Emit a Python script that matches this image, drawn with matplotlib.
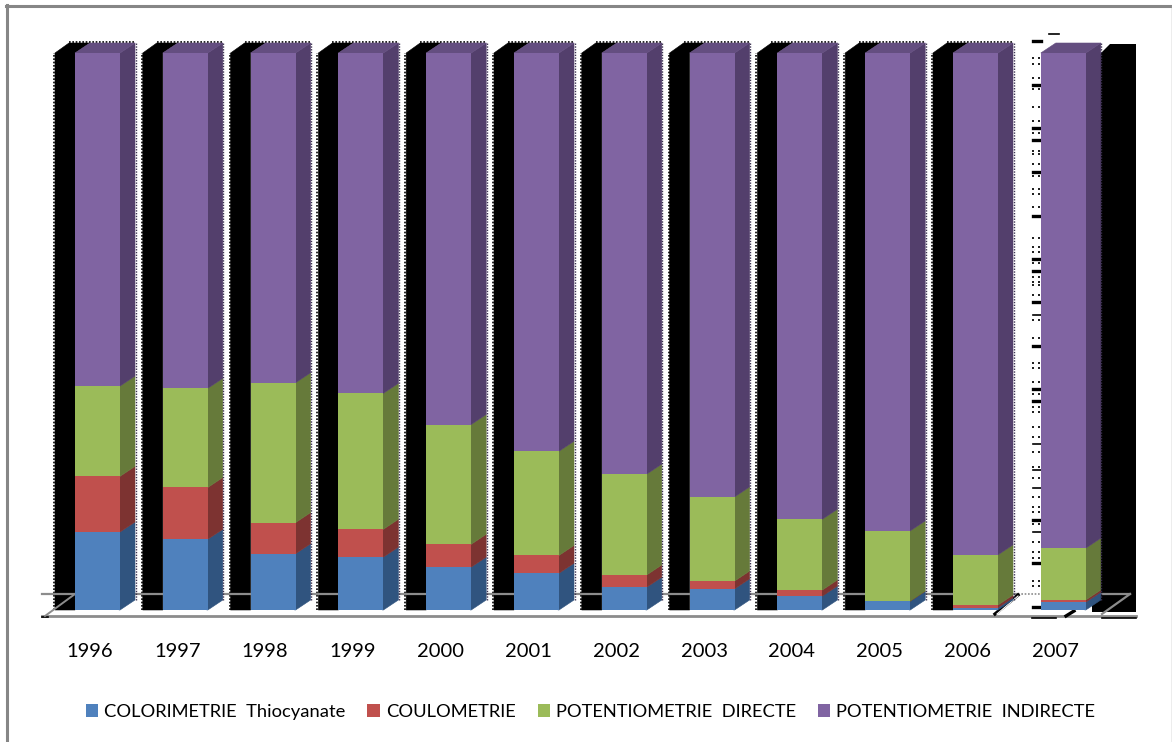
import matplotlib
matplotlib.use('Agg')
import matplotlib.pyplot as plt
import numpy as np
from matplotlib.patches import Patch, Polygon
from matplotlib.transforms import Affine2D

plt.rcParams['font.family'] = ['Lato', 'DejaVu Sans']

years = ['1996', '1997', '1998', '1999', '2000', '2001', '2002', '2003', '2004', '2005', '2006', '2007']
colorimetrie = [14.0, 12.7, 10.1, 9.5, 7.7, 6.6, 4.1, 3.8, 2.5, 1.6, 0.4, 1.4]
coulometrie = [10.0, 9.3, 5.6, 5.0, 4.1, 3.2, 2.2, 1.4, 1.1, 0.0, 0.5, 0.4]
pot_directe = [16.2, 17.8, 25.1, 24.4, 21.5, 18.7, 18.1, 15.1, 12.7, 12.6, 9.0, 9.3]
pot_indirecte = [59.8, 60.2, 59.2, 61.1, 66.7, 71.5, 75.6, 79.7, 83.7, 85.8, 90.1, 88.9]

series_names = ['COLORIMETRIE  Thiocyanate', 'COULOMETRIE', 'POTENTIOMETRIE  DIRECTE', 'POTENTIOMETRIE  INDIRECTE']
front_colors = ['#4F81BD', '#C0504D', '#9BBB59', '#8064A2']
side_colors = ['#30547F', '#7D3331', '#667A3A', '#533F6C']
top_color = '#644E80'

W, H = 1172, 742
fig = plt.figure(figsize=(W / 100, H / 100), dpi=100, facecolor='white')

# plot area runs from the first bar to the last, 100% is the full column
step = 87.8
first_center = 97.5
left_px, right_px = 53, 1143
base_px, top_px = 610, 53
ax = fig.add_axes([left_px / W, 1 - base_px / H, (right_px - left_px) / W, (base_px - top_px) / H])
ax.set_xlim((left_px - first_center) / step, (right_px - first_center) / step)
ax.set_ylim(0, 100)
for s in ax.spines.values():
    s.set_visible(False)
ax.set_yticks([])
ax.patch.set_visible(False)

# helper transform for the furniture, in pixels from the top left
px = Affine2D().scale(1, -1).translate(0, H)

ux = 1 / step
uy = 100 / (base_px - top_px)
bar_w = 45 * ux
dx, dy = 15 * ux, 10 * uy
wall_w = 20 * ux
x = np.arange(len(years))


def poly(points, color, z):
    ax.add_patch(Polygon(points, closed=True, facecolor=color, edgecolor=color, lw=0.4, zorder=z, clip_on=False))


# black back walls next to each column
for i in x[:-1]:
    l = i - bar_w / 2
    poly([(l - wall_w, 0), (l - wall_w, 100), (l - wall_w + 14 * ux, 100 + dy), (l + dx, 100 + dy), (l, 100), (l, 0)], 'black', 1)
    ax.plot([l - wall_w - 1 * ux] * 2, [0, 100], color='black', lw=1.2, ls=(0, (1, 1)), zorder=1, clip_on=False)
    ax.plot([l - wall_w + 14 * ux, l + dx + bar_w], [100 + dy + 0.2] * 2, color='black', lw=1.2, ls=(0, (1, 1)), zorder=1, clip_on=False)

# last wall sits on the right of 2007
ax.add_patch(Polygon([(1092, 612), (1092, 600), (1100, 600), (1100, 54), (1110, 44), (1136, 44), (1136, 612)],
                     closed=True, facecolor='black', edgecolor='none', transform=px, zorder=1, clip_on=False))

# scattered marks left of 2007
thick_rows = [41, 85, 128, 140, 172, 216, 259, 271, 302, 346, 389, 401, 520, 563, 607]
thin_rows = [315, 444, 470, 488, 532]
dot_rows = [58, 64, 78, 89, 107, 121, 133, 151, 154, 164, 176, 189, 194, 207, 238, 247, 252, 263, 277, 282, 285,
            295, 320, 338, 363, 368, 382, 394, 407, 412, 427, 437, 452, 467, 478, 497, 507, 512, 524, 542, 552, 558,
            581, 586]
for r in thick_rows:
    ax.plot([1033, 1041], [r, r], color='black', lw=2.4, transform=px, zorder=1, clip_on=False)
for r in thin_rows:
    ax.plot([1033, 1041], [r, r], color='black', lw=1.2, transform=px, zorder=1, clip_on=False)
for r in dot_rows:
    ax.plot([1033, 1039], [r, r], ls='none', marker='s', ms=1.6, mew=0, color='#222222', transform=px, zorder=1, clip_on=False)
ax.plot([1049, 1059], [34, 34], color='black', lw=1.2, transform=px, zorder=1, clip_on=False)

# floor outline
grey = '#8C8C8C'
ax.plot([42, 1018], [594, 594], color=grey, lw=1.6, transform=px, zorder=2, clip_on=False)
ax.plot([1018, 1041], [594, 594], color=grey, lw=1.2, ls=(0, (1, 1)), transform=px, zorder=2, clip_on=False)
ax.plot([1100, 1130], [594, 594], color=grey, lw=1.6, transform=px, zorder=2, clip_on=False)
ax.plot([42, 1136], [616, 616], color=grey, lw=2, transform=px, zorder=2, clip_on=False)
ax.plot([42, 48], [616.5, 616.5], color='black', lw=1.2, transform=px, zorder=2, clip_on=False)
ax.plot([1102, 1136], [618, 618], color='black', lw=1.2, transform=px, zorder=2, clip_on=False)
ax.plot([1032, 1056], [618, 618], color='black', lw=1.2, transform=px, zorder=2, clip_on=False)
ax.plot([45, 75], [616, 594], color=grey, lw=1.4, transform=px, zorder=2, clip_on=False)
ax.plot([1102, 1130], [614, 594], color=grey, lw=1.6, transform=px, zorder=2, clip_on=False)
ax.plot([995, 1018], [614, 595], color='black', lw=2.4, transform=px, zorder=2, clip_on=False)
ax.plot([997, 1018], [614, 596], color='white', lw=0.8, transform=px, zorder=2, clip_on=False)
ax.plot([1066, 1074], [616, 611], color='black', lw=2.4, transform=px, zorder=2, clip_on=False)

# stacked columns, front faces and right sides
series = [colorimetrie, coulometrie, pot_directe, pot_indirecte]
bottom = np.zeros(len(years))
for vals, front, side in zip(series, front_colors, side_colors):
    vals = np.array(vals)
    ax.bar(x, vals, bottom=bottom, width=bar_w, color=front, zorder=4)
    for i in x:
        r = i + bar_w / 2
        y0, y1 = bottom[i], bottom[i] + vals[i]
        poly([(r - ux, y0), (r, y0), (r + dx, y0 + dy), (r + dx, y1 + dy), (r, y1), (r - ux, y1)], side, 3)
    bottom = bottom + vals

for i in x:
    l = i - bar_w / 2
    poly([(l, 100), (l + dx, 100 + dy), (l + bar_w + dx, 100 + dy), (l + bar_w, 100)], top_color, 3)
    ax.plot([l + bar_w + dx + 0.5 * ux] * 2, [dy, 100 + dy], color='#3A3050', lw=1, ls=(0, (1, 1)), zorder=3, clip_on=False)

# year labels sit a little left of the column centres
ax.set_xticks(x - 8 * ux)
ax.set_xticklabels(years, fontsize=14.5, color='black')
ax.tick_params(axis='x', length=0, pad=24)

# outer frame
ax.plot([7, 7], [5, H], color='#868686', lw=2.2, transform=px, clip_on=False, zorder=5)
ax.plot([6, W], [6, 6], color='#868686', lw=2.2, transform=px, clip_on=False, zorder=5)
ax.plot([1171.5, 1171.5], [6, H], color='#A8A8A8', lw=1, transform=px, clip_on=False, zorder=5)

handles = [Patch(facecolor=c, edgecolor='none') for c in front_colors]
fig.legend(handles, series_names, loc='center', bbox_to_anchor=(590.5 / W, 1 - 712 / H), ncol=4, frameon=False,
           fontsize=13.2, handlelength=0.68, handleheight=0.68, handletextpad=0.32, columnspacing=1.2,
           borderpad=0, borderaxespad=0)

fig.savefig('out.png', dpi=100, facecolor='white')
